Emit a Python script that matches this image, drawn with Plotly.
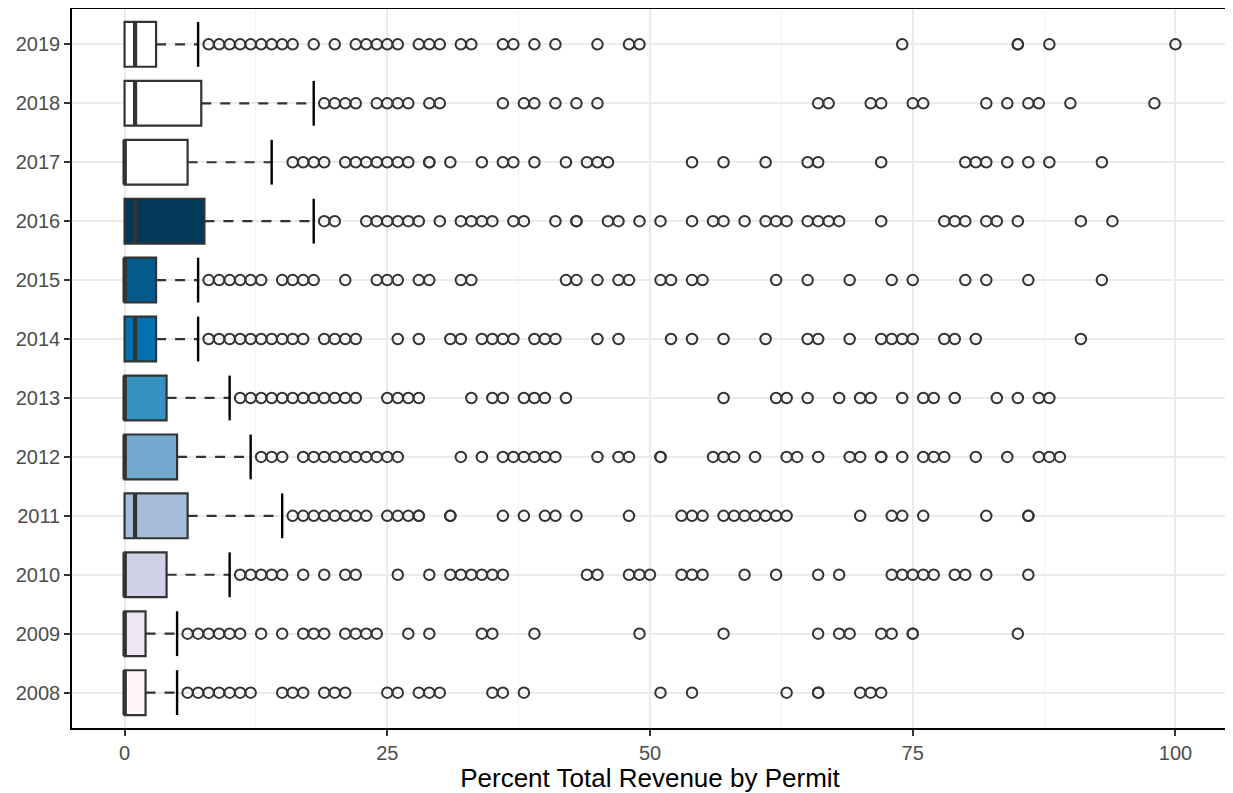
import plotly.graph_objects as go

years = ["2008", "2009", "2010", "2011", "2012", "2013", "2014", "2015", "2016", "2017", "2018", "2019"]
fill_colors = ["#FFF7FB", "#ECE7F2", "#D0D1E6", "#A6BDDB", "#74A9CF", "#3690C0",
               "#0570B0", "#045A8D", "#023858", "#FFFFFF", "#FFFFFF", "#FFFFFF"]

q1 = [0, 0, 0, 0, 0, 0, 0, 0, 0, 0, 0, 0]
median = [0, 0, 0, 1, 0, 0, 1, 0, 1, 0, 1, 1]
q3 = [2, 2, 4, 6, 5, 4, 3, 3, 7.6, 6, 7.3, 3]
lower_whisker = [0, 0, 0, 0, 0, 0, 0, 0, 0, 0, 0, 0]
upper_whisker = [5, 5, 10, 15, 12, 10, 7, 7, 18, 14, 18, 7]

outliers = {
    "2008": [6, 7, 8, 9, 10, 11, 12, 15, 16, 17, 19, 20, 21, 25, 26, 28, 29, 30, 35, 36, 38,
             51, 54, 63, 66, 66, 70, 71, 72],
    "2009": [6, 7, 8, 9, 10, 11, 13, 15, 17, 18, 19, 21, 22, 23, 24, 27, 29, 34, 35, 39, 49, 57,
             66, 68, 69, 72, 73, 75, 75, 85],
    "2010": [11, 12, 13, 14, 15, 17, 19, 21, 22, 26, 29, 31, 32, 33, 34, 35, 36, 44, 45, 48, 49, 50,
             53, 54, 55, 59, 62, 66, 68, 73, 74, 75, 76, 77, 79, 80, 82, 86],
    "2011": [16, 17, 18, 19, 20, 21, 22, 23, 25, 26, 27, 28, 28, 31, 31, 36, 38, 40, 41, 43, 48,
             53, 54, 55, 57, 58, 59, 60, 61, 62, 63, 70, 73, 74, 76, 82, 86, 86],
    "2012": [13, 14, 15, 17, 18, 19, 20, 21, 22, 23, 24, 25, 26, 32, 34, 36, 37, 38, 39, 40, 41,
             45, 47, 48, 51, 51, 56, 57, 58, 60, 63, 64, 66, 69, 70, 72, 72, 74, 76, 77, 78, 81,
             84, 87, 88, 89],
    "2013": [11, 12, 13, 14, 15, 16, 17, 18, 19, 20, 21, 22, 25, 26, 27, 28, 33, 35, 36, 38, 39,
             40, 42, 57, 62, 63, 65, 68, 70, 71, 74, 76, 77, 79, 83, 85, 87, 88],
    "2014": [8, 9, 10, 11, 12, 13, 14, 15, 16, 17, 19, 20, 21, 22, 26, 28, 31, 32, 34, 35, 36, 37,
             39, 40, 41, 45, 47, 52, 54, 57, 61, 65, 66, 69, 72, 73, 74, 75, 78, 79, 81, 91],
    "2015": [8, 9, 10, 11, 12, 13, 15, 16, 17, 18, 21, 24, 25, 26, 28, 29, 32, 33, 42, 43, 45, 47,
             48, 51, 52, 54, 55, 62, 65, 69, 73, 75, 80, 82, 86, 93],
    "2016": [19, 20, 23, 24, 25, 26, 27, 28, 30, 32, 33, 34, 35, 37, 38, 41, 43, 43, 46, 47, 49,
             51, 54, 56, 57, 59, 61, 62, 63, 65, 66, 67, 68, 72, 78, 79, 80, 82, 83, 85, 91, 94],
    "2017": [16, 17, 18, 19, 21, 22, 23, 24, 25, 26, 27, 29, 29, 31, 34, 36, 37, 39, 42, 44, 45,
             46, 54, 57, 61, 65, 66, 72, 80, 81, 82, 84, 86, 88, 93],
    "2018": [19, 20, 21, 22, 24, 25, 26, 27, 29, 30, 36, 38, 39, 41, 43, 45, 66, 67, 71, 72, 75,
             76, 82, 84, 86, 87, 90, 98],
    "2019": [8, 9, 10, 11, 12, 13, 14, 15, 16, 18, 20, 22, 23, 24, 25, 26, 28, 29, 30, 32, 33, 36,
             37, 39, 41, 45, 48, 49, 74, 85, 85, 88, 100],
}

x_ticks = [0, 25, 50, 75, 100]
x_title = "Percent Total Revenue by Permit"

BOX_W = 0.76
HALF = BOX_W / 2
LINE_C = "#333333"

fig = go.Figure()

positions = list(range(1, len(years) + 1))

# dashed whiskers
wx, wy = [], []
for i, p in enumerate(positions):
    wx += [q3[i], upper_whisker[i], None]
    wy += [p, p, None]
    if lower_whisker[i] < q1[i]:
        wx += [lower_whisker[i], q1[i], None]
        wy += [p, p, None]
fig.add_trace(go.Scatter(x=wx, y=wy, mode="lines",
                         line=dict(color=LINE_C, width=2.2, dash="10px,9px"),
                         hoverinfo="skip", showlegend=False))

# boxes
for i, p in enumerate(positions):
    fig.add_trace(go.Box(
        y=[p], q1=[q1[i]], median=[median[i]], q3=[q3[i]],
        lowerfence=[q1[i]], upperfence=[q3[i]],
        orientation="h", width=BOX_W, fillcolor=fill_colors[i],
        line=dict(color=LINE_C, width=2.2), boxpoints=False,
        showlegend=False, hoverinfo="skip",
    ))

# medians (thicker)
mx, my = [], []
for i, p in enumerate(positions):
    mx += [median[i], median[i], None]
    my += [p - HALF, p + HALF, None]
fig.add_trace(go.Scatter(x=mx, y=my, mode="lines",
                         line=dict(color=LINE_C, width=4.2),
                         hoverinfo="skip", showlegend=False))

# whisker caps (solid black)
cx, cy = [], []
for i, p in enumerate(positions):
    cx += [upper_whisker[i], upper_whisker[i], None]
    cy += [p - HALF, p + HALF, None]
fig.add_trace(go.Scatter(x=cx, y=cy, mode="lines",
                         line=dict(color="black", width=2.4),
                         hoverinfo="skip", showlegend=False))

# outliers
ox, oy = [], []
for i, yr in enumerate(years):
    ox += outliers[yr]
    oy += [positions[i]] * len(outliers[yr])
fig.add_trace(go.Scatter(x=ox, y=oy, mode="markers",
                         marker=dict(symbol="circle-open", size=10.5, color=LINE_C,
                                     line=dict(width=2, color=LINE_C)),
                         hoverinfo="skip", showlegend=False))

fig.update_layout(
    width=1225, height=785,
    margin=dict(l=64, r=5, t=1, b=65),
    paper_bgcolor="white", plot_bgcolor="white",
    font=dict(family="Liberation Sans, Arial, sans-serif"),
    showlegend=False,
)
fig.update_xaxes(
    range=[-5, 105], tickvals=x_ticks, ticktext=[str(t) for t in x_ticks],
    showgrid=True, gridcolor="#EBEBEB", gridwidth=1.5,
    minor=dict(tickvals=[12.5, 37.5, 62.5, 87.5], showgrid=True,
               gridcolor="#F3F3F3", gridwidth=1, ticks=""),
    zeroline=False, automargin=False,
    showline=True, linecolor="black", linewidth=1.5, mirror=True,
    ticks="outside", ticklen=6, tickcolor="#333333", tickwidth=2,
    tickfont=dict(size=20, color="#4D4D4D"),
    title=dict(text=x_title, font=dict(size=26, color="black"), standoff=2),
)
fig.update_yaxes(
    range=[0.4, 12.6], tickvals=positions, ticktext=years,
    showgrid=True, gridcolor="#EBEBEB", gridwidth=1.5,
    zeroline=False, automargin=False,
    showline=True, linecolor="black", linewidth=1.5, mirror=True,
    ticks="outside", ticklen=6, tickcolor="#333333", tickwidth=2,
    tickfont=dict(size=20, color="#4D4D4D"),
)

fig.write_html("out.html")
